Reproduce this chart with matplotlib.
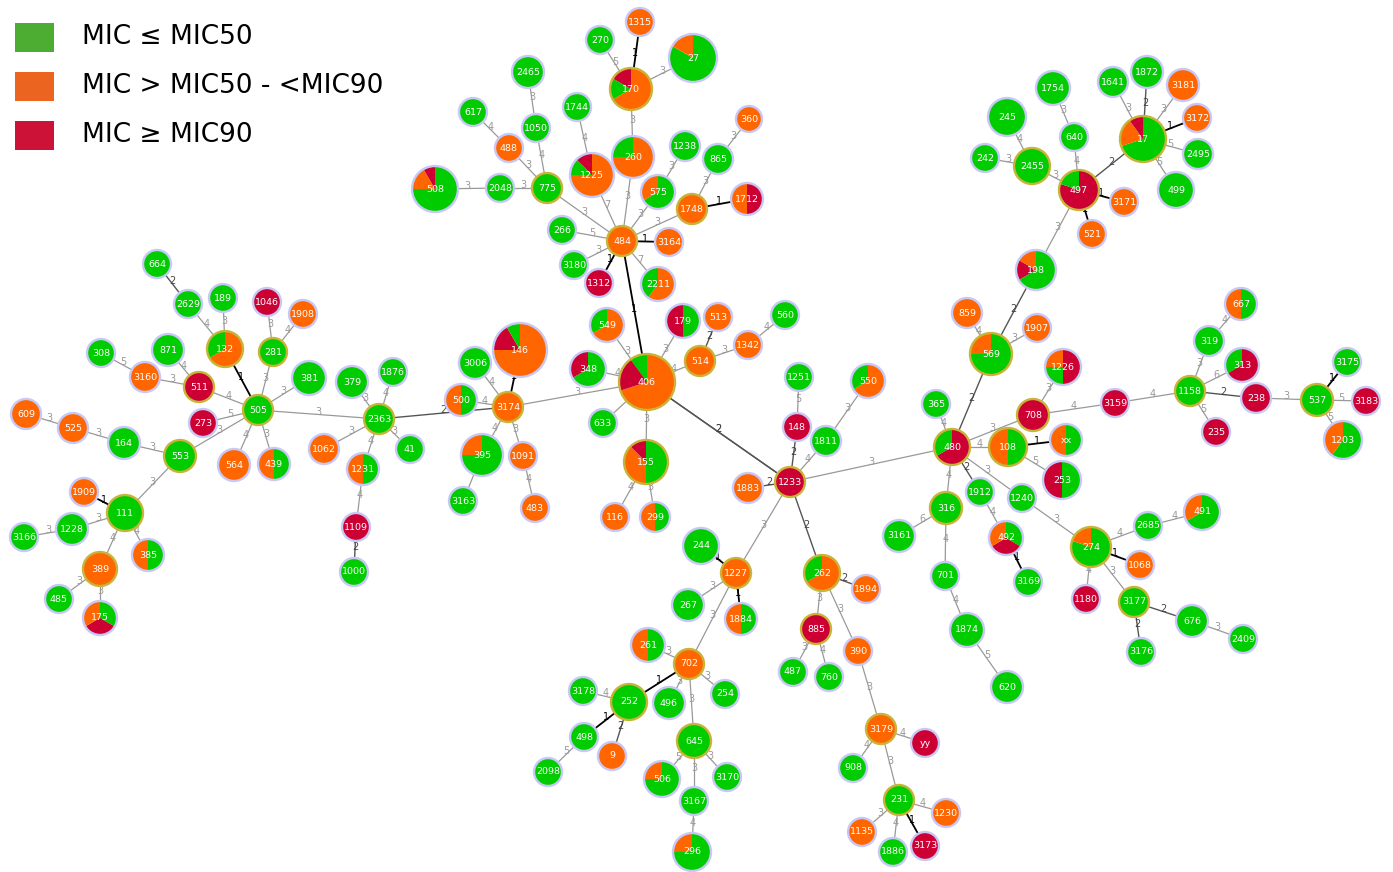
import matplotlib
matplotlib.use("Agg")
import matplotlib.pyplot as plt
from matplotlib.patches import Wedge, Circle, Rectangle

# node table (layout in pixel units, y down)
node_id = ["1315", "270", "27", "170", "2465", "617", "1050", "1744", "488", "360",
           "260", "1225", "1238", "865", "508", "2048", "775", "575", "1748", "1712",
           "266", "484", "3164", "3180", "1312", "2211",
           "406", "549", "179", "513", "560", "1342", "514", "348", "633", "155",
           "116", "299", "3174", "146", "3006", "500", "395", "3163", "1091", "483",
           "2363", "379", "1876", "41", "1062", "1231", "1109", "1000",
           "505", "664", "2629", "189", "1046", "1908", "132", "281", "381", "308",
           "871", "3160", "511", "273", "609", "525", "164", "553", "564", "439",
           "1909", "111", "1228", "3166", "385", "389", "485", "175",
           "1233", "148", "1251", "1811", "550", "1883", "480", "859", "569", "1907",
           "1226", "365", "708", "108", "xx", "253", "3159", "1912", "1240", "316",
           "3161", "492", "3169", "701", "1874", "620", "274", "2685", "491", "1068",
           "1180", "3177", "3176", "676", "2409",
           "198", "497", "2455", "245", "242", "1754", "640", "521", "3171", "17",
           "1641", "1872", "3181", "3172", "2495", "499",
           "1158", "667", "319", "313", "238", "235", "537", "3175", "3183", "1203",
           "1227", "244", "267", "1884", "702", "261", "254", "252", "3178", "496",
           "498", "9", "2098", "645", "506", "3170", "3167", "296",
           "262", "1894", "885", "487", "760", "390", "3179", "yy", "908", "231",
           "1230", "1135", "1886", "3173"]
node_x = [640, 600, 693, 631, 528, 473, 536, 577, 509, 749,
          633, 592, 685, 718, 435, 500, 547, 658, 692, 747,
          562, 622, 669, 574, 599, 658,
          647, 607, 683, 718, 785, 748, 700, 588, 603, 646,
          615, 655, 508, 520, 475, 461, 482, 463, 523, 535,
          379, 352, 393, 410, 324, 363, 356, 354,
          258, 157, 188, 223, 267, 303, 225, 273, 309, 101,
          168, 145, 199, 203, 26, 73, 124, 180, 234, 274,
          84, 125, 72, 24, 148, 100, 59, 100,
          790, 797, 799, 826, 868, 748, 952, 967, 991, 1037,
          1063, 936, 1033, 1008, 1066, 1062, 1115, 980, 1022, 946,
          899, 1006, 1028, 945, 967, 1007, 1091, 1148, 1202, 1140,
          1086, 1134, 1141, 1192, 1243,
          1036, 1079, 1032, 1007, 985, 1053, 1074, 1092, 1124, 1143,
          1113, 1147, 1183, 1197, 1198, 1176,
          1190, 1241, 1209, 1242, 1256, 1216, 1317, 1347, 1366, 1343,
          736, 701, 688, 741, 689, 648, 725, 629, 583, 669,
          584, 612, 548, 694, 662, 727, 694, 692,
          822, 866, 816, 793, 829, 858, 881, 925, 853, 899,
          946, 862, 893, 925]
node_y = [22, 40, 58, 89, 72, 112, 128, 107, 148, 119,
          157, 175, 146, 159, 189, 188, 188, 192, 209, 199,
          230, 241, 242, 265, 283, 284,
          382, 325, 321, 317, 315, 345, 361, 369, 423, 462,
          517, 517, 407, 350, 363, 400, 455, 501, 456, 508,
          419, 382, 372, 449, 449, 469, 527, 572,
          410, 264, 304, 298, 302, 314, 349, 352, 378, 353,
          350, 377, 387, 423, 414, 428, 443, 456, 465, 464,
          492, 513, 529, 537, 555, 569, 599, 618,
          482, 427, 377, 441, 381, 488, 447, 313, 354, 328,
          367, 404, 415, 447, 440, 480, 403, 492, 498, 508,
          536, 538, 582, 576, 630, 687, 547, 526, 512, 565,
          599, 602, 652, 621, 639,
          270, 190, 166, 117, 158, 88, 137, 234, 202, 139,
          82, 72, 85, 118, 154, 190,
          391, 304, 341, 365, 398, 432, 400, 362, 401, 440,
          573, 546, 605, 619, 664, 645, 694, 702, 691, 703,
          737, 756, 772, 741, 779, 777, 801, 852,
          573, 589, 629, 672, 677, 651, 729, 743, 768, 800,
          813, 832, 852, 846]
node_r = [14, 14, 24, 21, 16, 14, 14, 14, 14, 13,
          21, 22, 15, 15, 23, 14, 15, 17, 15, 16,
          14, 15, 14, 14, 14, 17,
          28, 17, 17, 14, 14, 14, 15, 18, 14, 22,
          14, 15, 15, 27, 16, 16, 21, 14, 14, 14,
          15, 16, 14, 14, 15, 16, 14, 14,
          15, 14, 14, 14, 14, 14, 18, 14, 17, 14,
          16, 15, 15, 14, 15, 15, 16, 16, 16, 16,
          14, 18, 16, 14, 16, 17, 14, 17,
          15, 14, 14, 15, 17, 15, 18, 15, 21, 14,
          18, 14, 16, 19, 16, 19, 14, 14, 14, 16,
          16, 17, 14, 14, 17, 16, 20, 14, 18, 14,
          14, 15, 14, 16, 14,
          20, 20, 18, 19, 14, 17, 14, 14, 14, 23,
          15, 16, 16, 14, 15, 18,
          15, 16, 15, 17, 15, 14, 16, 14, 14, 19,
          15, 18, 16, 16, 15, 17, 14, 18, 14, 16,
          14, 14, 14, 17, 18, 14, 14, 19,
          18, 14, 15, 14, 14, 14, 15, 14, 14, 15,
          14, 14, 14, 14]
# isolate counts per MIC class
n_green = [0, 1, 5, 1, 1, 1, 1, 1, 0, 0,
           1, 1, 1, 1, 9, 1, 1, 2, 0, 0,
           1, 0, 0, 1, 0, 2,
           1, 1, 1, 0, 1, 0, 0, 2, 1, 4,
           0, 1, 0, 1, 1, 1, 3, 1, 0, 0,
           1, 1, 1, 1, 0, 1, 0, 1,
           1, 1, 1, 1, 0, 0, 1, 1, 1, 1,
           1, 0, 0, 0, 0, 0, 1, 1, 0, 1,
           0, 1, 1, 1, 1, 0, 1, 1,
           0, 0, 1, 1, 1, 0, 1, 0, 3, 0,
           1, 1, 0, 1, 1, 1, 0, 1, 1, 1,
           1, 1, 1, 1, 1, 1, 4, 1, 2, 0,
           0, 1, 1, 1, 1,
           4, 1, 1, 1, 1, 1, 1, 0, 0, 7,
           1, 1, 0, 0, 1, 1,
           1, 1, 1, 1, 0, 0, 1, 1, 0, 3,
           0, 1, 1, 1, 0, 1, 1, 1, 1, 1,
           1, 0, 1, 1, 3, 1, 1, 3,
           1, 0, 0, 1, 1, 0, 0, 0, 1, 1,
           0, 0, 1, 0]
n_orange = [1, 0, 1, 4, 0, 0, 0, 0, 1, 1,
            3, 6, 0, 0, 2, 0, 0, 1, 1, 1,
            0, 1, 1, 0, 0, 3,
            7, 2, 0, 1, 0, 1, 1, 0, 0, 3,
            1, 1, 1, 9, 0, 1, 1, 0, 1, 1,
            0, 0, 0, 0, 1, 1, 0, 0,
            0, 0, 0, 0, 0, 1, 2, 0, 0, 0,
            0, 1, 0, 0, 1, 1, 0, 0, 1, 1,
            1, 0, 0, 0, 1, 1, 0, 1,
            0, 0, 0, 0, 2, 1, 0, 1, 1, 1,
            1, 0, 0, 1, 1, 0, 0, 0, 0, 0,
            0, 1, 0, 0, 0, 0, 1, 0, 1, 1,
            0, 0, 0, 0, 0,
            1, 0, 0, 0, 0, 0, 0, 1, 1, 2,
            0, 0, 1, 1, 0, 0,
            0, 1, 0, 0, 0, 0, 0, 0, 0, 2,
            1, 0, 0, 1, 1, 1, 0, 0, 0, 0,
            0, 1, 0, 0, 1, 0, 0, 1,
            2, 1, 0, 0, 0, 1, 1, 0, 0, 0,
            1, 1, 0, 0]
n_red = [0, 0, 0, 1, 0, 0, 0, 0, 0, 0,
         0, 1, 0, 0, 1, 0, 0, 0, 0, 1,
         0, 0, 0, 0, 1, 0,
         2, 0, 1, 0, 0, 0, 0, 1, 0, 1,
         0, 0, 0, 2, 0, 0, 0, 0, 0, 0,
         0, 0, 0, 0, 0, 0, 1, 0,
         0, 0, 0, 0, 1, 0, 0, 0, 0, 0,
         0, 0, 1, 1, 0, 0, 0, 0, 0, 0,
         0, 0, 0, 0, 0, 0, 0, 1,
         1, 1, 0, 0, 0, 0, 2, 0, 0, 0,
         2, 0, 1, 0, 0, 1, 1, 0, 0, 0,
         0, 1, 0, 0, 0, 0, 0, 0, 0, 0,
         1, 0, 0, 0, 0,
         1, 4, 0, 0, 0, 0, 0, 0, 0, 1,
         0, 0, 0, 0, 0, 0,
         0, 0, 0, 2, 1, 1, 0, 0, 1, 0,
         0, 0, 0, 0, 0, 0, 0, 0, 0, 0,
         0, 0, 0, 0, 0, 0, 0, 0,
         0, 0, 1, 0, 0, 0, 0, 1, 0, 0,
         0, 0, 0, 1]
founders = ["170", "775", "1748", "484", "406", "514", "155", "3174", "2363", "505",
            "132", "281", "511", "553", "111", "389", "1233", "480", "569", "708",
            "108", "316", "274", "3177", "497", "2455", "17", "1158", "537", "1227",
            "702", "252", "645", "262", "885", "3179", "231"]

# MST edges and allelic distances
edge_a = ["484", "484", "484", "484", "484", "484", "484", "484", "484", "484", "484",
          "775", "2048", "775", "488", "775", "1050", "1225", "260", "170", "170", "170",
          "1748", "865", "1748", "575",
          "406", "406", "406", "406", "406", "406", "406", "406", "514", "514", "1342",
          "155", "155", "3174", "3174", "3174", "3174", "3174", "1091", "395", "3174",
          "2363", "2363", "2363", "2363", "2363", "1231", "1109", "2363",
          "664", "2629", "189", "132", "1046", "1908", "281", "381", "308", "3160", "871",
          "511", "273", "505", "505", "505", "609", "525", "164", "553", "1909", "1228",
          "3166", "111", "111", "389", "389",
          "406", "1233", "148", "1233", "1811", "1233", "1233", "1233", "1233",
          "480", "569", "569", "569", "480", "480", "480", "708", "708", "3159", "108",
          "108", "480", "480", "1240", "480", "316", "316", "701", "1874", "1912", "492",
          "274", "2685", "274", "274", "274", "3177", "3177", "676",
          "198", "497", "2455", "2455", "497", "640", "497", "497", "497", "17", "17",
          "17", "17", "17", "17",
          "1158", "319", "1158", "1158", "1158", "238", "537", "537", "537",
          "1227", "1227", "1227", "1227", "702", "702", "702", "702", "702", "252", "252",
          "252", "498", "645", "645", "645", "3167",
          "262", "262", "885", "885", "262", "390", "3179", "3179", "3179", "231", "231",
          "231", "231"]
edge_b = ["775", "1225", "260", "575", "1748", "266", "3164", "3180", "1312", "2211", "406",
          "2048", "508", "488", "617", "1050", "2465", "1744", "170", "270", "1315", "27",
          "865", "360", "1712", "1238",
          "549", "179", "514", "348", "633", "155", "3174", "1233", "513", "1342", "560",
          "116", "299", "146", "3006", "500", "395", "1091", "483", "3163", "2363",
          "379", "1876", "41", "1062", "1231", "1109", "1000", "505",
          "2629", "132", "132", "505", "281", "281", "505", "505", "3160", "511", "511",
          "505", "505", "553", "564", "439", "525", "164", "553", "111", "111", "111",
          "1228", "389", "385", "485", "175",
          "1233", "148", "1251", "1811", "550", "1883", "480", "1227", "262",
          "569", "859", "1907", "198", "365", "108", "708", "1226", "3159", "1158", "xx",
          "253", "1912", "1240", "274", "316", "3161", "701", "1874", "620", "492", "3169",
          "2685", "491", "1068", "1180", "3177", "3176", "676", "2409",
          "497", "2455", "245", "242", "640", "1754", "521", "3171", "17", "1641", "1872",
          "3181", "3172", "2495", "499",
          "319", "667", "313", "238", "235", "537", "3175", "3183", "1203",
          "244", "267", "1884", "702", "261", "254", "252", "496", "645", "3178", "498",
          "9", "2098", "506", "3170", "3167", "296",
          "1894", "885", "487", "760", "390", "3179", "yy", "908", "231", "1230", "1135",
          "1886", "3173"]
edge_d = [3, 7, 3, 3, 3, 5, 1, 3, 1, 7, 1,
          3, 3, 3, 4, 4, 3, 4, 3, 5, 1, 3,
          3, 3, 1, 3,
          3, 3, 4, 4, 0, 3, 3, 2, 2, 3, 4,
          4, 3, 1, 4, 4, 4, 3, 4, 0, 2,
          3, 4, 3, 3, 4, 4, 2, 3,
          2, 4, 3, 1, 3, 4, 3, 3, 5, 3, 4,
          4, 5, 3, 4, 3, 3, 3, 3, 3, 1, 3,
          3, 4, 4, 3, 3,
          2, 2, 5, 4, 3, 2, 3, 3, 2,
          2, 4, 3, 2, 4, 4, 3, 3, 4, 4, 1,
          5, 2, 3, 3, 4, 6, 4, 4, 5, 4, 1,
          4, 4, 1, 4, 3, 2, 2, 3,
          3, 3, 4, 3, 4, 3, 1, 1, 2, 3, 2,
          3, 1, 5, 5,
          3, 4, 6, 2, 5, 3, 1, 5, 5,
          1, 3, 1, 3, 3, 3, 1, 3, 3, 4, 1,
          2, 5, 5, 3, 3, 4,
          2, 3, 3, 4, 3, 3, 4, 4, 3, 4, 3,
          4, 1]

legend_labels = ["MIC \u2264 MIC50", "MIC > MIC50 - <MIC90", "MIC \u2265 MIC90"]
legend_colors = ["#4dad33", "#ec6520", "#cc1236"]

GREEN, ORANGE, RED = "#00cc00", "#ff6600", "#cc0033"

fig = plt.figure(figsize=(13.93, 8.72), dpi=100)
ax = fig.add_axes([0, 0, 1, 1])
ax.set_xlim(0, 1393)
ax.set_ylim(872, 0)
ax.set_aspect("equal")
ax.axis("off")

pos = {n: (x, y) for n, x, y in zip(node_id, node_x, node_y)}

# edges
for a, b, d in zip(edge_a, edge_b, edge_d):
    (x1, y1), (x2, y2) = pos[a], pos[b]
    if d == 1:
        col, lw, tc = "black", 1.3, "black"
    elif d == 2:
        col, lw, tc = "#555555", 1.0, "#444444"
    else:
        col, lw, tc = "#999999", 0.9, "#999999"
    ax.plot([x1, x2], [y1, y2], color=col, lw=lw, zorder=1)
    if d > 0:
        ax.text((x1 + x2) / 2, (y1 + y2) / 2 - 3, str(d), color=tc, fontsize=7,
                ha="center", va="center", zorder=2)

# pie nodes
prio = {"g": 0, "r": 1, "o": 2}
for n, x, y, rad, g, o, r in zip(node_id, node_x, node_y, node_r, n_green, n_orange, n_red):
    parts = [(g, "g", GREEN), (o, "o", ORANGE), (r, "r", RED)]
    parts = [p for p in parts if p[0] > 0]
    parts.sort(key=lambda p: (-p[0], prio[p[1]]))
    tot = float(g + o + r)
    start = -90.0
    for v, _, c in parts:
        span = 360.0 * v / tot
        ax.add_patch(Wedge((x, y), rad, start, start + span, facecolor=c,
                           edgecolor="none", zorder=3))
        start += span
    ec = "#c8b43a" if n in founders else "#c8c8f6"
    ax.add_patch(Circle((x, y), rad, facecolor="none", edgecolor=ec, lw=1.7, zorder=4))
    ax.text(x, y, n, color="white", fontsize=6.8, ha="center", va="center", zorder=5)

# legend
for i, (lab, c) in enumerate(zip(legend_labels, legend_colors)):
    yy = 37 + i * 49
    ax.add_patch(Rectangle((15, yy - 14), 39, 29, facecolor=c, edgecolor="none"))
    ax.text(82, yy, lab, fontsize=19, va="center", ha="left", color="black")

fig.savefig("out.png", dpi=100)
